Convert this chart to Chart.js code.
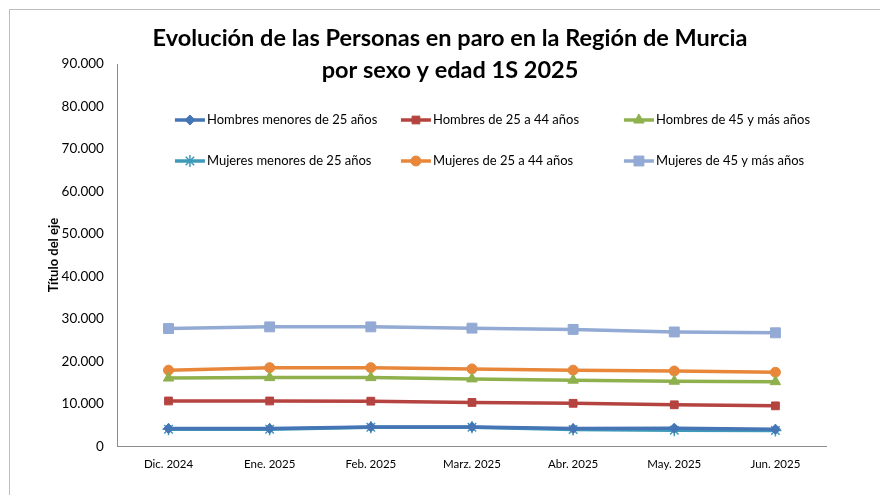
<!DOCTYPE html>
<html>
<head>
<meta charset="utf-8">
<script src="https://cdn.jsdelivr.net/npm/chart.js@4/dist/chart.umd.min.js"></script>
<style>
    html, body { margin: 0; padding: 0; background: #fff; overflow: hidden; }
    #wrap { position: relative; width: 880px; height: 495px; }
    #frame { position: absolute; left: 9px; top: 9px; width: 1000px; height: 1000px;
             border-left: 1px solid #bdbdbd; border-top: 1px solid #bdbdbd; }
    #chart { position: absolute; left: 0; top: 0; }
</style>
</head>
<body>
<div id="wrap">
    <div id="frame"></div>
    <canvas id="chart" width="880" height="495"></canvas>
</div>
<script>
const meses = ['Dic. 2024', 'Ene. 2025', 'Feb. 2025', 'Marz. 2025', 'Abr. 2025', 'May. 2025', 'Jun. 2025'];

const hombresMenores25 = [4150, 4150, 4550, 4550, 4150, 4250, 4000];
const hombres25a44 = [10650, 10650, 10600, 10300, 10100, 9750, 9500];
const hombres45ymas = [16050, 16150, 16150, 15850, 15550, 15300, 15200];
const mujeresMenores25 = [4000, 4000, 4450, 4450, 3950, 3750, 3700];
const mujeres25a44 = [17900, 18500, 18500, 18200, 17900, 17700, 17400];
const mujeres45ymas = [27700, 28100, 28100, 27800, 27500, 26900, 26700];

const tituloLineas = ['Evolución de las Personas en paro en la Región de Murcia', 'por sexo y edad 1S 2025'];

const FONT = 'Lato, "Open Sans", sans-serif';

function miles(v) {
    return String(v).replace(/\B(?=(\d{3})+(?!\d))/g, '.');
}

function serie(label, data, color, pointStyle, radius) {
    return {
        label: label,
        data: data,
        borderColor: color,
        backgroundColor: color,
        borderWidth: 3.5,
        tension: 0,
        pointStyle: pointStyle,
        pointRadius: radius,
        pointBorderWidth: pointStyle === 'star' ? 1.5 : 1,
        pointBorderColor: color,
        pointBackgroundColor: color
    };
}

// titulo y leyenda dibujados encima del area del grafico
const overlayPlugin = {
    id: 'overlay',
    afterDraw(chart) {
        const ctx = chart.ctx;
        const area = chart.chartArea;
        ctx.save();

        ctx.fillStyle = '#000';
        ctx.font = 'bold 23.5px ' + FONT;
        ctx.textAlign = 'center';
        ctx.textBaseline = 'middle';
        ctx.fillText(tituloLineas[0], 450, 38);
        ctx.fillText(tituloLineas[1], 450, 70);

        const colX = [72, 298, 521];
        const rowY = [56, 97];
        ctx.font = '13px ' + FONT;
        ctx.textAlign = 'left';
        chart.data.datasets.forEach((ds, i) => {
            const cx = area.left + colX[i % 3];
            const cy = area.top + rowY[Math.floor(i / 3)];
            ctx.strokeStyle = ds.borderColor;
            ctx.fillStyle = ds.borderColor;
            ctx.lineWidth = 3.5;
            ctx.beginPath();
            ctx.moveTo(cx - 15, cy);
            ctx.lineTo(cx + 15, cy);
            ctx.stroke();
            ctx.lineWidth = ds.pointBorderWidth;
            Chart.helpers.drawPoint(ctx, {
                pointStyle: ds.pointStyle,
                radius: ds.pointRadius,
                rotation: 0,
                borderWidth: ds.pointBorderWidth
            }, cx, cy);
            ctx.fillStyle = '#000';
            ctx.fillText(ds.label, cx + 17, cy);
        });
        ctx.restore();
    }
};

const ctx = document.getElementById('chart').getContext('2d');
const chart = new Chart(ctx, {
    type: 'line',
    data: {
        labels: meses,
        datasets: [
            serie('Hombres menores de 25 años', hombresMenores25, '#4675B5', 'rectRot', 5),
            serie('Hombres de 25 a 44 años', hombres25a44, '#B5433F', 'rect', 5.5),
            serie('Hombres de 45 y más años', hombres45ymas, '#8EB04D', 'triangle', 6),
            serie('Mujeres menores de 25 años', mujeresMenores25, '#3E9AB8', 'star', 6),
            serie('Mujeres de 25 a 44 años', mujeres25a44, '#E8873A', 'circle', 5),
            serie('Mujeres de 45 y más años', mujeres45ymas, '#92AAD4', 'rect', 7)
        ]
    },
    options: {
        responsive: false,
        animation: false,
        layout: {
            padding: { top: 64, left: 46, right: 54, bottom: 13 }
        },
        plugins: {
            legend: { display: false },
            title: { display: false },
            tooltip: { enabled: false }
        },
        scales: {
            x: {
                offset: true,
                grid: { display: false, drawTicks: false },
                border: { color: '#8c8c8c', width: 1 },
                ticks: {
                    color: '#000',
                    padding: 11,
                    maxRotation: 0,
                    font: { family: FONT, size: 11.5 }
                }
            },
            y: {
                min: 0,
                max: 90000,
                grid: { display: false, drawTicks: false },
                border: { color: '#8c8c8c', width: 1 },
                ticks: {
                    stepSize: 10000,
                    color: '#000',
                    padding: 14,
                    font: { family: FONT, size: 13.5 },
                    callback: v => miles(v)
                },
                title: {
                    display: true,
                    text: 'Título del eje',
                    color: '#000',
                    padding: { top: 0, bottom: -14 },
                    font: { family: FONT, size: 13, weight: 'bold' }
                }
            }
        }
    },
    plugins: [overlayPlugin]
});
</script>
</body>
</html>
